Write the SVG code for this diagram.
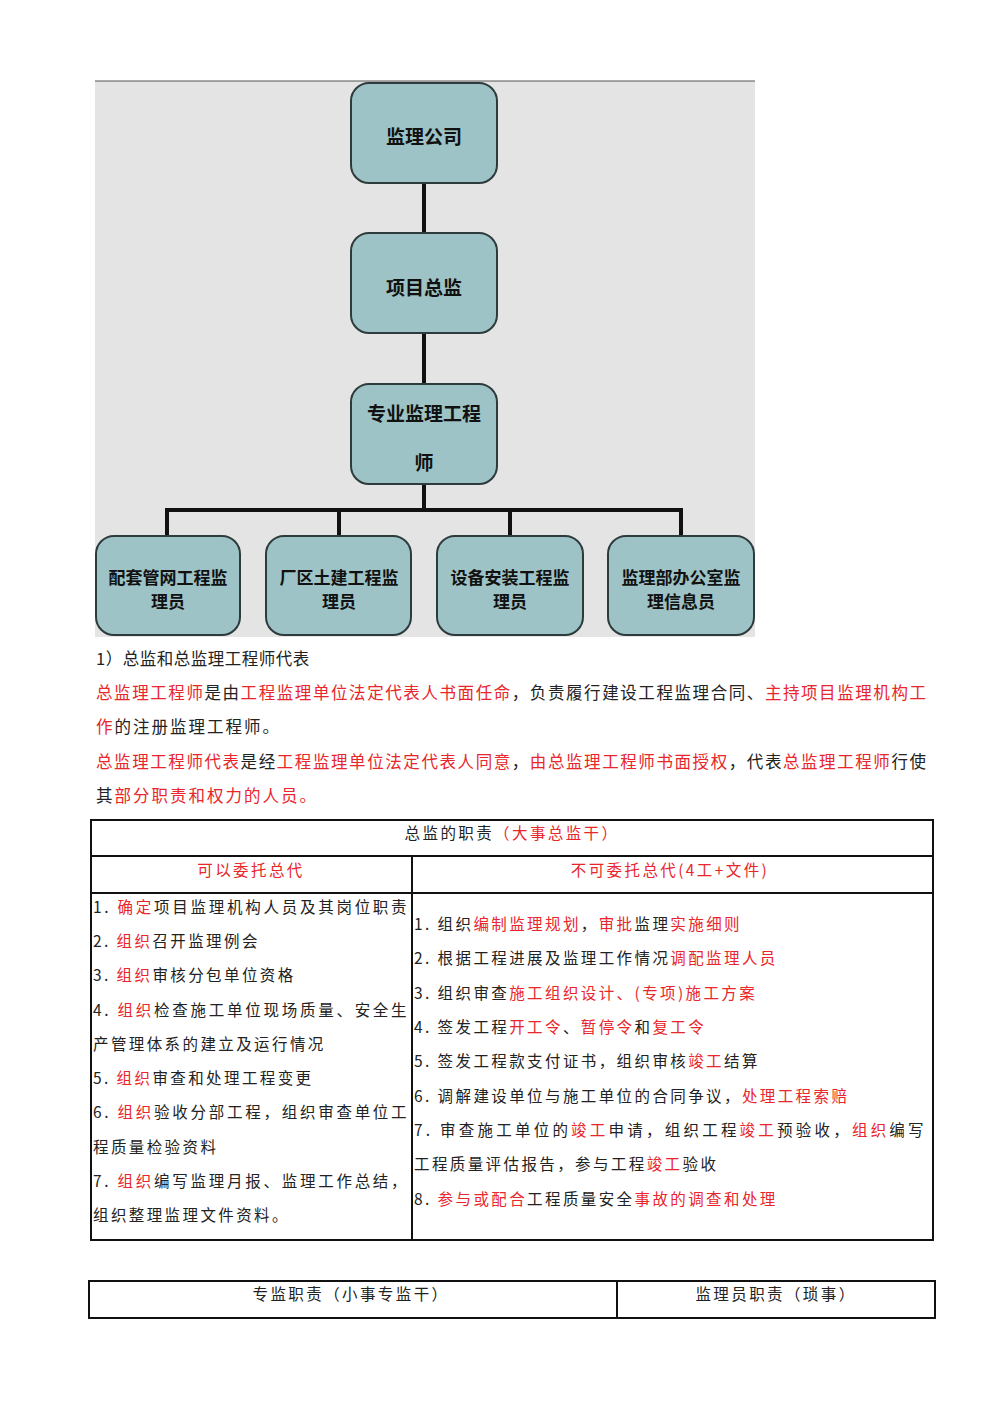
<svg xmlns="http://www.w3.org/2000/svg" width="1000" height="1414" viewBox="0 0 1000 1414">
<style>
.n{fill:#9dc3c6;stroke:#2e3b3c;stroke-width:2}
.nt{font-family:"Noto Sans CJK SC",sans-serif;font-weight:bold;font-size:17px;fill:#111;text-anchor:middle}
.big{font-size:19px}
.c{stroke:#111;stroke-width:4;fill:none}
.t{font-family:"Noto Sans CJK SC",sans-serif;font-size:16.5px;fill:#222;letter-spacing:2px}
.s{font-family:"Noto Sans CJK SC",sans-serif;font-size:15.5px;fill:#222;letter-spacing:2.4px}
.r{fill:#e8262b}
.b{fill:none;stroke:#111;stroke-width:2}
</style>
<rect width="1000" height="1414" fill="#fff"/>
<rect x="95" y="81" width="660" height="556" fill="#e4e4e4"/>
<line x1="95" y1="81" x2="755" y2="81" stroke="#555" stroke-width="1"/>
<g id="connectors">
<path class="c" d="M424 183V233M424 333V384M424 484V510M167 536V510H681V536M339 510V536M510 510V536"/>
</g>
<g id="n1"><rect class="n" x="351" y="83" width="146" height="100" rx="18"/><text class="nt big" x="424" y="144">监理公司</text></g>
<g id="n2"><rect class="n" x="351" y="233" width="146" height="100" rx="18"/><text class="nt big" x="424" y="295">项目总监</text></g>
<g id="n3"><rect class="n" x="351" y="384" width="146" height="100" rx="18"/><text class="nt big" x="424" y="421">专业监理工程</text><text class="nt big" x="424" y="470">师</text></g>
<g id="n4"><rect class="n" x="96" y="536" width="144" height="99" rx="18"/><text class="nt" x="168" y="584">配套管网工程监</text><text class="nt" x="168" y="608">理员</text></g>
<g id="n5"><rect class="n" x="266" y="536" width="145" height="99" rx="18"/><text class="nt" x="339" y="584">厂区土建工程监</text><text class="nt" x="339" y="608">理员</text></g>
<g id="n6"><rect class="n" x="437" y="536" width="146" height="99" rx="18"/><text class="nt" x="510" y="584">设备安装工程监</text><text class="nt" x="510" y="608">理员</text></g>
<g id="n7"><rect class="n" x="608" y="536" width="146" height="99" rx="18"/><text class="nt" x="681" y="584">监理部办公室监</text><text class="nt" x="681" y="608">理信息员</text></g>

<text class="t" x="96" y="665" style="letter-spacing:0.5px">1）总监和总监理工程师代表</text>
<text class="t" x="96" y="699" textLength="832"><tspan class="r">总监理工程师</tspan>是由<tspan class="r">工程监理单位法定代表人书面任命</tspan>，负责履行建设工程监理合同、<tspan class="r">主持项目监理机构工</tspan></text>
<text class="t" x="96" y="733"><tspan class="r">作</tspan>的注册监理工程师。</text>
<text class="t" x="96" y="768" textLength="832"><tspan class="r">总监理工程师代表</tspan>是经<tspan class="r">工程监理单位法定代表人同意</tspan>，<tspan class="r">由总监理工程师书面授权</tspan>，代表<tspan class="r">总监理工程师</tspan>行使</text>
<text class="t" x="96" y="802">其<tspan class="r">部分职责和权力的人员。</tspan></text>

<rect class="b" x="91" y="820" width="842" height="420"/>
<line class="b" x1="91" y1="856" x2="933" y2="856"/>
<line class="b" x1="91" y1="893" x2="933" y2="893"/>
<line class="b" x1="412" y1="856" x2="412" y2="1240"/>
<text class="s" x="512" y="839" text-anchor="middle">总监的职责<tspan class="r">（大事总监干）</tspan></text>
<text class="s r" x="251" y="876" text-anchor="middle">可以委托总代</text>
<text class="s r" x="670" y="876" text-anchor="middle">不可委托总代(4工+文件)</text>

<text class="s" x="93" y="913" textLength="316">1. <tspan class="r">确定</tspan>项目监理机构人员及其岗位职责</text>
<text class="s" x="93" y="947">2. <tspan class="r">组织</tspan>召开监理例会</text>
<text class="s" x="93" y="981">3. <tspan class="r">组织</tspan>审核分包单位资格</text>
<text class="s" x="93" y="1016" textLength="316">4. <tspan class="r">组织</tspan>检查施工单位现场质量、安全生</text>
<text class="s" x="93" y="1050">产管理体系的建立及运行情况</text>
<text class="s" x="93" y="1084">5. <tspan class="r">组织</tspan>审查和处理工程变更</text>
<text class="s" x="93" y="1118" textLength="316">6. <tspan class="r">组织</tspan>验收分部工程，组织审查单位工</text>
<text class="s" x="93" y="1153">程质量检验资料</text>
<text class="s" x="93" y="1187" textLength="316">7. <tspan class="r">组织</tspan>编写监理月报、监理工作总结，</text>
<text class="s" x="93" y="1221">组织整理监理文件资料。</text>

<text class="s" x="414" y="930">1. 组织<tspan class="r">编制监理规划</tspan>，<tspan class="r">审批</tspan>监理<tspan class="r">实施细则</tspan></text>
<text class="s" x="414" y="964">2. 根据工程进展及监理工作情况<tspan class="r">调配监理人员</tspan></text>
<text class="s" x="414" y="999">3. 组织审查<tspan class="r">施工组织设计、(专项)施工方案</tspan></text>
<text class="s" x="414" y="1033">4. 签发工程<tspan class="r">开工令</tspan>、<tspan class="r">暂停令</tspan>和<tspan class="r">复工令</tspan></text>
<text class="s" x="414" y="1067">5. 签发工程款支付证书，组织审核<tspan class="r">竣工</tspan>结算</text>
<text class="s" x="414" y="1102">6. 调解建设单位与施工单位的合同争议，<tspan class="r">处理工程索赔</tspan></text>
<text class="s" x="414" y="1136" textLength="512">7. 审查施工单位的<tspan class="r">竣工</tspan>申请，组织工程<tspan class="r">竣工</tspan>预验收，<tspan class="r">组织</tspan>编写</text>
<text class="s" x="414" y="1170">工程质量评估报告，参与工程<tspan class="r">竣工</tspan>验收</text>
<text class="s" x="414" y="1205">8. <tspan class="r">参与或配合</tspan>工程质量安全<tspan class="r">事故的调查和处理</tspan></text>

<rect class="b" x="89" y="1281" width="846" height="37"/>
<line class="b" x1="617" y1="1281" x2="617" y2="1318"/>
<text class="s" x="351" y="1300" text-anchor="middle">专监职责（小事专监干）</text>
<text class="s" x="776" y="1300" text-anchor="middle">监理员职责（琐事）</text>
</svg>
